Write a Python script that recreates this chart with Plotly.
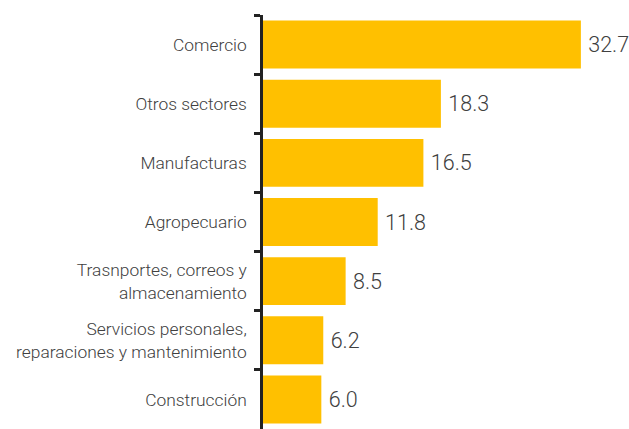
import plotly.graph_objects as go

categories = ["Comercio", "Otros sectores", "Manufacturas", "Agropecuario",
              "Trasnportes, correos y<br>almacenamiento",
              "Servicios personales,<br>reparaciones y mantenimiento",
              "Construcción"]
values = [32.7, 18.3, 16.5, 11.8, 8.5, 6.2, 6.0]
value_labels = ["32.7", "18.3", "16.5", "11.8", "8.5", "6.2", "6.0"]

FONT = "Roboto Light, Roboto, sans-serif"

fig = go.Figure(go.Bar(
    x=values, y=categories, orientation="h",
    marker=dict(color="#FFC000", line=dict(width=0)),
    text=["\u2009" + t for t in value_labels], textposition="outside", cliponaxis=False,
    textfont=dict(size=21.5, color="#404040", family=FONT),
    hoverinfo="skip",
))

fig.update_layout(
    width=629, height=429,
    margin=dict(l=263, r=0, t=15, b=0),
    paper_bgcolor="white", plot_bgcolor="white",
    bargap=0.19, showlegend=False,
    font=dict(family=FONT, color="#404040"),
)
fig.update_xaxes(visible=False, range=[0, 37.65])
fig.update_yaxes(
    autorange="reversed", showline=True, linecolor="#222222", linewidth=2.5,
    ticks="outside", tickson="boundaries", ticklen=6, tickwidth=2.5, tickcolor="#222222",
    tickfont=dict(size=17.4, color="#404040", family=FONT),
    ticklabelstandoff=10, showgrid=False, zeroline=False, automargin=False,
)
fig.write_html("out.html", config={"displayModeBar": False},
               post_script="document.body.style.margin='0';document.body.style.overflow='hidden';")
